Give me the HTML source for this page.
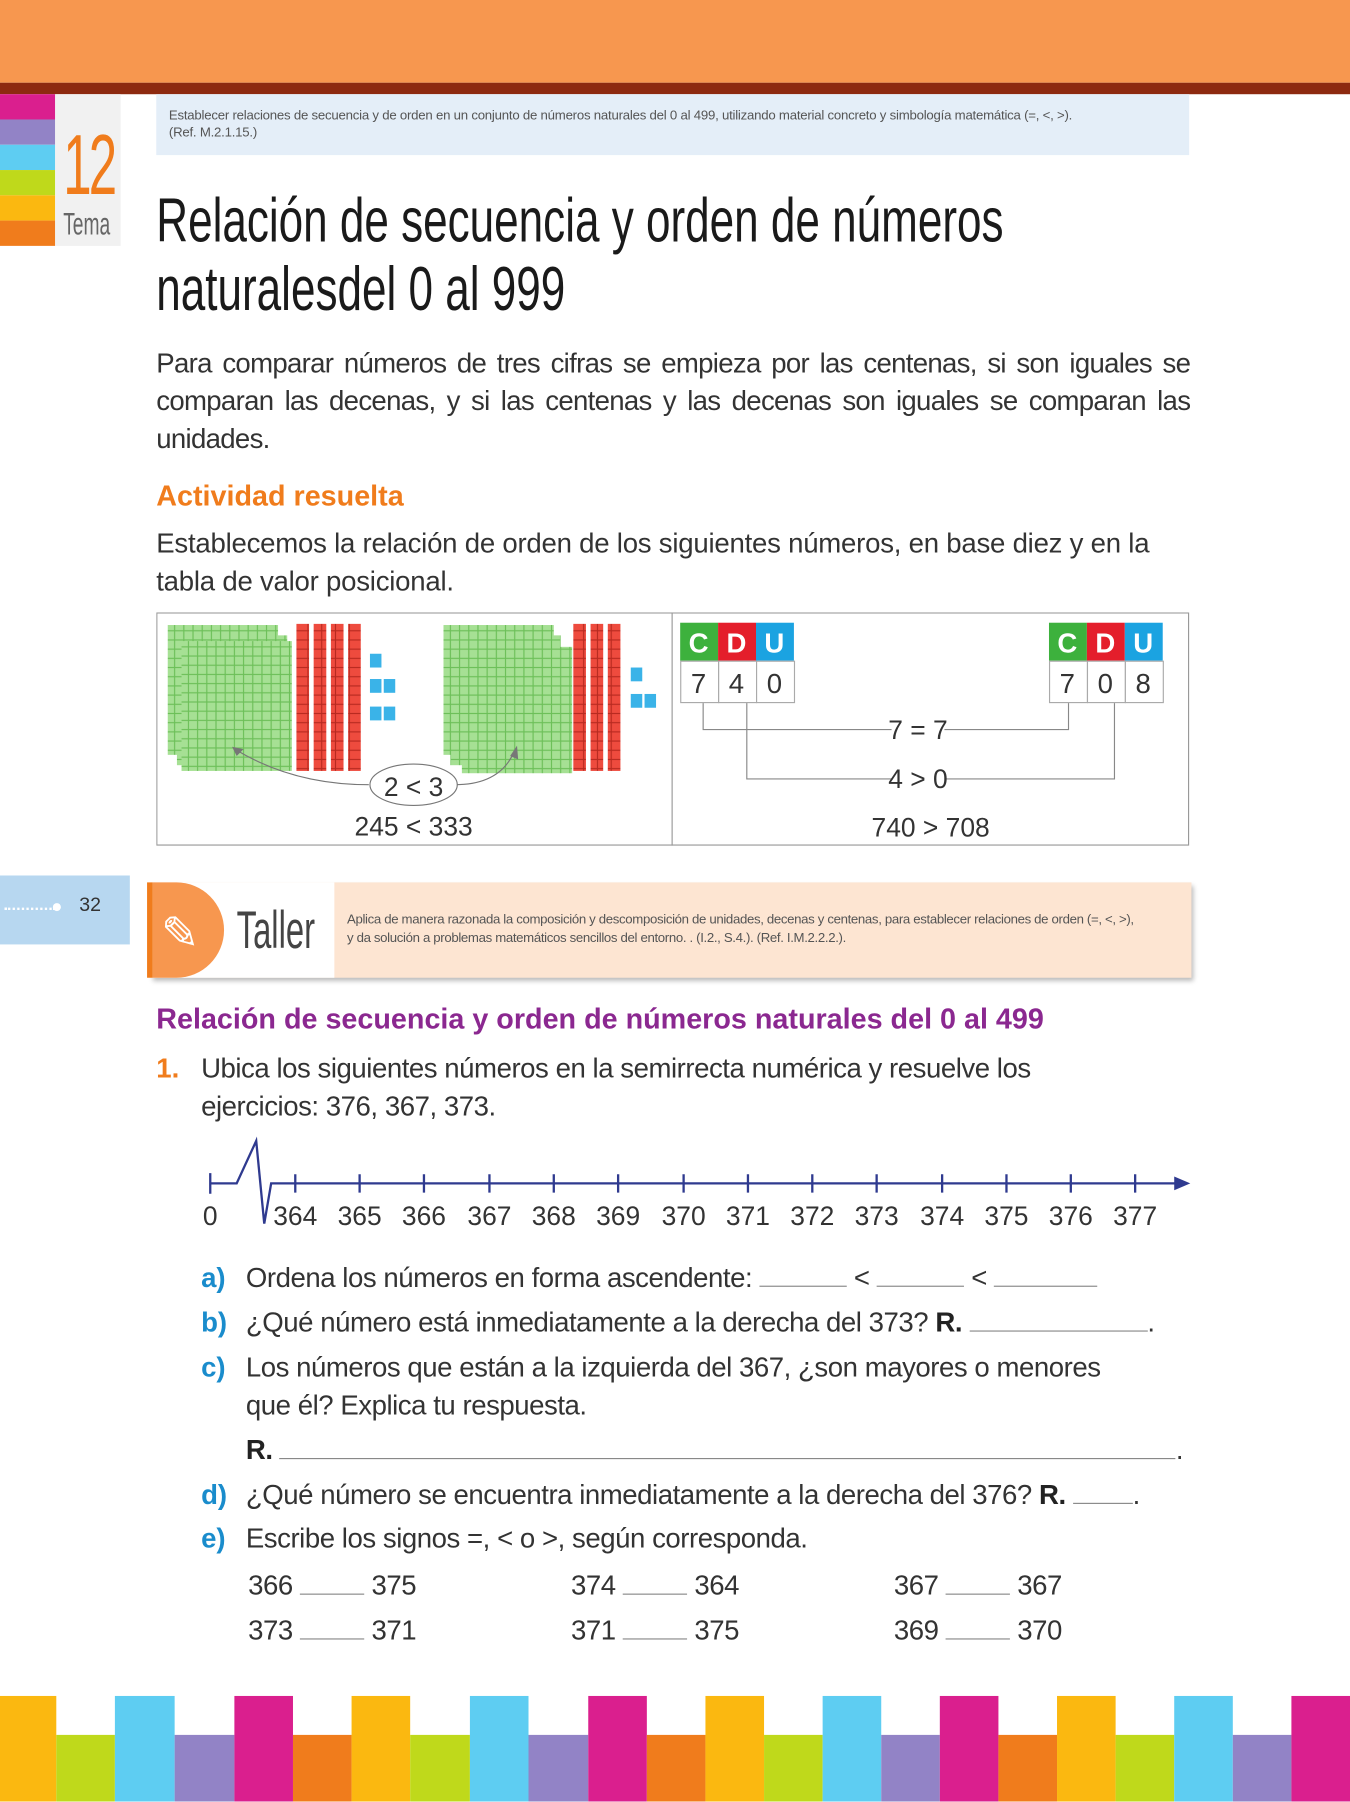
<!DOCTYPE html>
<html><head><meta charset="utf-8"><style>
html,body{margin:0;padding:0;background:#fff;}
body{width:1350px;height:1800px;overflow:hidden;position:relative;font-family:"Liberation Sans",sans-serif;}
#w{position:absolute;left:0;top:0;width:1175px;height:1568px;transform:scale(1.148936);transform-origin:0 0;}
.a{position:absolute;}
.t{color:#333;font-size:24px;line-height:33px;letter-spacing:-0.4px;}
.n{font-family:"Liberation Sans Narrow","Liberation Sans",sans-serif;}
.bl{color:#1a8ccc;font-weight:bold;font-size:24px;line-height:33px;}
.u{display:inline-block;border-bottom:1px solid #888;height:20px;vertical-align:baseline;}
</style></head><body><div id="w">
<div class="a" style="left:0;top:0;width:1175px;height:72px;background:#f7974f"></div>
<div class="a" style="left:0;top:72px;width:1175px;height:10px;background:#8d2a10"></div>
<div class="a" style="left:0;top:82px;width:48px;height:22px;background:#da1f8e"></div>
<div class="a" style="left:0;top:104px;width:48px;height:22px;background:#9283c6"></div>
<div class="a" style="left:0;top:126px;width:48px;height:22px;background:#5ecdf2"></div>
<div class="a" style="left:0;top:148px;width:48px;height:22px;background:#bfd91b"></div>
<div class="a" style="left:0;top:170px;width:48px;height:22px;background:#fbb810"></div>
<div class="a" style="left:0;top:192px;width:48px;height:22px;background:#f07c1c"></div>
<div class="a" style="left:48px;top:82px;width:57px;height:132px;background:#f1f1f1"></div>
<div class="a n" style="left:55px;top:104px;font-size:74px;line-height:80px;color:#f07c1c;letter-spacing:-4px;transform:scaleX(0.6);transform-origin:0 0">12</div>
<div class="a n" style="left:55px;top:180px;font-size:27px;color:#666;transform:scaleX(0.62);transform-origin:0 0">Tema</div>
<div class="a" style="left:136px;top:82px;width:899px;height:53px;background:#e4eef8"></div>
<div class="a" style="left:147px;top:94px;font-size:11.5px;line-height:15px;color:#555;letter-spacing:-0.2px">Establecer relaciones de secuencia y de orden en un conjunto de números naturales del 0 al 499, utilizando material concreto y simbología matemática (=, &lt;, &gt;).<br>(Ref. M.2.1.15.)</div>
<div class="a n" style="left:136px;top:162px;font-size:54px;line-height:60px;color:#1a1a1a;transform:scaleX(0.71);transform-origin:0 0;white-space:nowrap">Relación de secuencia y orden de números<br>naturalesdel 0 al 999</div>
<div class="a t" style="left:136px;top:300px;width:900px;text-align:justify;letter-spacing:-0.6px">Para comparar números de tres cifras se empieza por las centenas, si son iguales se comparan las decenas, y si las centenas y las decenas son iguales se comparan las unidades.</div>
<div class="a" style="left:136px;top:418px;font-size:25px;font-weight:bold;color:#f07c1c">Actividad resuelta</div>
<div class="a t" style="left:136px;top:457px;width:900px;letter-spacing:-0.2px">Establecemos la relación de orden de los siguientes números, en base diez y en la tabla de valor posicional.</div>
<svg class="a" style="left:136px;top:533px" width="900" height="204">
<defs><pattern id="g" width="8" height="8" patternUnits="userSpaceOnUse"><rect width="8" height="8" fill="#a6e094" stroke="#6cbf58" stroke-width="1"/></pattern>
<pattern id="r" width="12" height="8" patternUnits="userSpaceOnUse"><rect width="12" height="8" fill="#ee4b3e" stroke="#b82a20" stroke-width="1"/></pattern></defs>
<rect x="0.5" y="0.5" width="898" height="202" fill="none" stroke="#999"/>
<line x1="449" y1="0" x2="449" y2="203" stroke="#999"/>
<rect x="10" y="11" width="96" height="113" fill="url(#g)"/><rect x="18" y="20" width="96" height="113" fill="url(#g)"/>
<rect x="10" y="11" width="96" height="113" fill="url(#g)" transform="translate(12,14)"/>
<rect x="122" y="10" width="11" height="128" fill="url(#r)"/><rect x="137" y="10" width="11" height="128" fill="url(#r)"/><rect x="152" y="10" width="11" height="128" fill="url(#r)"/><rect x="167" y="10" width="11" height="128" fill="url(#r)"/>
<g fill="#3ab3e8"><rect x="186" y="36" width="10" height="12"/><rect x="186" y="58" width="10" height="12"/><rect x="198" y="58" width="10" height="12"/><rect x="186" y="82" width="10" height="12"/><rect x="198" y="82" width="10" height="12"/></g>
<rect x="250" y="11" width="96" height="113" fill="url(#g)"/><rect x="256" y="20" width="96" height="113" fill="url(#g)"/><rect x="266" y="30" width="96" height="110" fill="url(#g)"/>
<rect x="363" y="10" width="11" height="128" fill="url(#r)"/><rect x="378" y="10" width="11" height="128" fill="url(#r)"/><rect x="393" y="10" width="11" height="128" fill="url(#r)"/>
<g fill="#3ab3e8"><rect x="413" y="48" width="10" height="12"/><rect x="413" y="71" width="10" height="12"/><rect x="425" y="71" width="10" height="12"/></g>
<path d="M185,150 Q120,150 70,120" fill="none" stroke="#777"/><path d="M66,117 l10,2 l-6,6z" fill="#777"/>
<path d="M260,150 Q300,150 312,120" fill="none" stroke="#777"/><path d="M314,116 l1,12 l-7,-3z" fill="#777"/>
<ellipse cx="224" cy="150" rx="38" ry="18" fill="#fff" stroke="#777"/>
<text x="224" y="160" font-size="23" text-anchor="middle" fill="#333">2 &lt; 3</text>
<text x="224" y="194" font-size="23" text-anchor="middle" fill="#333">245 &lt; 333</text>
<g font-family="Liberation Sans" font-size="24" text-anchor="middle">
<rect x="456" y="9" width="33" height="33" fill="#3db13d"/><rect x="489" y="9" width="33" height="33" fill="#e41e2b"/><rect x="522" y="9" width="33" height="33" fill="#1ba3e1"/>
<text x="472" y="35" fill="#fff" font-weight="bold">C</text><text x="505" y="35" fill="#fff" font-weight="bold">D</text><text x="538" y="35" fill="#fff" font-weight="bold">U</text>
<rect x="456.5" y="42.5" width="33" height="36" fill="#fff" stroke="#aaa"/><rect x="489.5" y="42.5" width="33" height="36" fill="#fff" stroke="#aaa"/><rect x="522.5" y="42.5" width="33" height="36" fill="#fff" stroke="#aaa"/>
<text x="472" y="70" fill="#333">7</text><text x="505" y="70" fill="#333">4</text><text x="538" y="70" fill="#333">0</text>
<rect x="777" y="9" width="33" height="33" fill="#3db13d"/><rect x="810" y="9" width="33" height="33" fill="#e41e2b"/><rect x="843" y="9" width="33" height="33" fill="#1ba3e1"/>
<text x="793" y="35" fill="#fff" font-weight="bold">C</text><text x="826" y="35" fill="#fff" font-weight="bold">D</text><text x="859" y="35" fill="#fff" font-weight="bold">U</text>
<rect x="777.5" y="42.5" width="33" height="36" fill="#fff" stroke="#aaa"/><rect x="810.5" y="42.5" width="33" height="36" fill="#fff" stroke="#aaa"/><rect x="843.5" y="42.5" width="33" height="36" fill="#fff" stroke="#aaa"/>
<text x="793" y="70" fill="#333">7</text><text x="826" y="70" fill="#333">0</text><text x="859" y="70" fill="#333">8</text>
</g>
<g stroke="#888" fill="none"><path d="M476,79 V102 H640 M686,102 H794 V79"/><path d="M514,79 V145 H640 M686,145 H834 V79"/></g>
<g font-size="23" fill="#333" text-anchor="middle"><text x="663" y="110">7 = 7</text><text x="663" y="153">4 &gt; 0</text><text x="674" y="195">740 &gt; 708</text></g>
</svg>
<div class="a" style="left:0;top:762px;width:113px;height:60px;background:#b7d7f0"></div>
<div class="a" style="left:4px;top:790px;width:44px;border-top:2px dotted #fff"></div>
<div class="a" style="left:46px;top:786px;width:7px;height:7px;border-radius:50%;background:#fff"></div>
<div class="a" style="left:69px;top:778px;font-size:17px;color:#333">32</div>
<div class="a" style="left:131px;top:768px;width:906px;height:83px;background:#fde5d2;box-shadow:2px 3px 4px #bbb"></div>
<div class="a" style="left:131px;top:768px;width:160px;height:83px;background:#fff"></div>
<div class="a" style="left:128px;top:768px;width:5px;height:83px;background:#f07c1c"></div>
<div class="a" style="left:133px;top:768px;width:62px;height:83px;background:#f7974f;border-radius:0 42px 42px 0"></div>
<div class="a" style="left:140px;top:790px;font-size:40px;color:#fff">✎</div>
<div class="a n" style="left:206px;top:782px;font-size:46px;color:#444;transform:scaleX(0.62);transform-origin:0 0">Taller</div>
<div class="a" style="left:302px;top:793px;font-size:11.5px;line-height:16px;color:#555;width:690px;letter-spacing:-0.3px">Aplica de manera razonada la composición y descomposición de unidades, decenas y centenas, para establecer relaciones de orden (=, &lt;, &gt;), y da solución a problemas matemáticos sencillos del entorno. . (I.2., S.4.). (Ref. I.M.2.2.2.).</div>
<div class="a" style="left:136px;top:873px;font-size:25px;font-weight:bold;color:#8b2890">Relación de secuencia y orden de números naturales del 0 al 499</div>
<div class="a" style="left:136px;top:914px;font-size:24px;line-height:33px;font-weight:bold;color:#f07c1c">1.</div>
<div class="a t" style="left:175px;top:914px;width:800px">Ubica los siguientes números en la semirrecta numérica y resuelve los ejercicios: 376, 367, 373.</div>
<svg class="a" style="left:170px;top:985px" width="875" height="90">
<g stroke="#2f3a8f" stroke-width="2" fill="none">
<path d="M13,45 H36 L53,8 L60,80 L66,45 H858"/><line x1="13" y1="36" x2="13" y2="54"/>
</g>
<path d="M866,45 l-14,-6 v12z" fill="#2f3a8f"/>
<g stroke="#2f3a8f" stroke-width="2">
<line x1="87" y1="37" x2="87" y2="53"/><line x1="143" y1="37" x2="143" y2="53"/><line x1="199" y1="37" x2="199" y2="53"/><line x1="256" y1="37" x2="256" y2="53"/><line x1="312" y1="37" x2="312" y2="53"/><line x1="368" y1="37" x2="368" y2="53"/><line x1="425" y1="37" x2="425" y2="53"/><line x1="481" y1="37" x2="481" y2="53"/><line x1="537" y1="37" x2="537" y2="53"/><line x1="593" y1="37" x2="593" y2="53"/><line x1="650" y1="37" x2="650" y2="53"/><line x1="706" y1="37" x2="706" y2="53"/><line x1="762" y1="37" x2="762" y2="53"/><line x1="818" y1="37" x2="818" y2="53"/>
</g>
<g font-size="23" fill="#333" text-anchor="middle" font-family="Liberation Sans">
<text x="13" y="81">0</text><text x="87" y="81">364</text><text x="143" y="81">365</text><text x="199" y="81">366</text><text x="256" y="81">367</text><text x="312" y="81">368</text><text x="368" y="81">369</text><text x="425" y="81">370</text><text x="481" y="81">371</text><text x="537" y="81">372</text><text x="593" y="81">373</text><text x="650" y="81">374</text><text x="706" y="81">375</text><text x="762" y="81">376</text><text x="818" y="81">377</text>
</g></svg>
<div class="a bl" style="left:175px;top:1096px">a)</div>
<div class="a t" style="left:214px;top:1096px">Ordena los números en forma ascendente: <span class="u" style="width:76px"></span> &lt; <span class="u" style="width:76px"></span> &lt; <span class="u" style="width:90px"></span></div>
<div class="a bl" style="left:175px;top:1135px">b)</div>
<div class="a t" style="left:214px;top:1135px">¿Qué número está inmediatamente a la derecha del 373? <b style="color:#222">R.</b> <span class="u" style="width:155px"></span>.</div>
<div class="a bl" style="left:175px;top:1174px">c)</div>
<div class="a t" style="left:214px;top:1174px">Los números que están a la izquierda del 367, ¿son mayores o menores<br>que él? Explica tu respuesta.</div>
<div class="a t" style="left:214px;top:1246px"><b style="color:#222">R.</b> <span class="u" style="width:780px"></span>.</div>
<div class="a bl" style="left:175px;top:1285px">d)</div>
<div class="a t" style="left:214px;top:1285px">¿Qué número se encuentra inmediatamente a la derecha del 376? <b style="color:#222">R.</b> <span class="u" style="width:52px"></span>.</div>
<div class="a bl" style="left:175px;top:1323px">e)</div>
<div class="a t" style="left:214px;top:1323px">Escribe los signos =, &lt; o &gt;, según corresponda.</div>
<div class="a t" style="left:216px;top:1364px">366 <span class="u" style="width:56px"></span> 375</div>
<div class="a t" style="left:497px;top:1364px">374 <span class="u" style="width:56px"></span> 364</div>
<div class="a t" style="left:778px;top:1364px">367 <span class="u" style="width:56px"></span> 367</div>
<div class="a t" style="left:216px;top:1403px">373 <span class="u" style="width:56px"></span> 371</div>
<div class="a t" style="left:497px;top:1403px">371 <span class="u" style="width:56px"></span> 375</div>
<div class="a t" style="left:778px;top:1403px">369 <span class="u" style="width:56px"></span> 370</div>
<svg class="a" style="left:0;top:1476px" width="1175" height="92">
<g>
<rect x="0" y="0" width="49" height="92" fill="#fbb810"/><rect x="49" y="34" width="51" height="58" fill="#bfd91b"/>
<rect x="100" y="0" width="52" height="92" fill="#5ecdf2"/><rect x="152" y="34" width="52" height="58" fill="#9283c6"/>
<rect x="204" y="0" width="51" height="92" fill="#da1f8e"/><rect x="255" y="34" width="51" height="58" fill="#f07c1c"/>
<rect x="306" y="0" width="51" height="92" fill="#fbb810"/><rect x="357" y="34" width="52" height="58" fill="#bfd91b"/>
<rect x="409" y="0" width="51" height="92" fill="#5ecdf2"/><rect x="460" y="34" width="52" height="58" fill="#9283c6"/>
<rect x="512" y="0" width="51" height="92" fill="#da1f8e"/><rect x="563" y="34" width="51" height="58" fill="#f07c1c"/>
<rect x="614" y="0" width="51" height="92" fill="#fbb810"/><rect x="665" y="34" width="51" height="58" fill="#bfd91b"/>
<rect x="716" y="0" width="51" height="92" fill="#5ecdf2"/><rect x="767" y="34" width="51" height="58" fill="#9283c6"/>
<rect x="818" y="0" width="51" height="92" fill="#da1f8e"/><rect x="869" y="34" width="51" height="58" fill="#f07c1c"/>
<rect x="920" y="0" width="51" height="92" fill="#fbb810"/><rect x="971" y="34" width="51" height="58" fill="#bfd91b"/>
<rect x="1022" y="0" width="51" height="92" fill="#5ecdf2"/><rect x="1073" y="34" width="51" height="58" fill="#9283c6"/>
<rect x="1124" y="0" width="51" height="92" fill="#da1f8e"/>
</g></svg>
</div></body></html>
